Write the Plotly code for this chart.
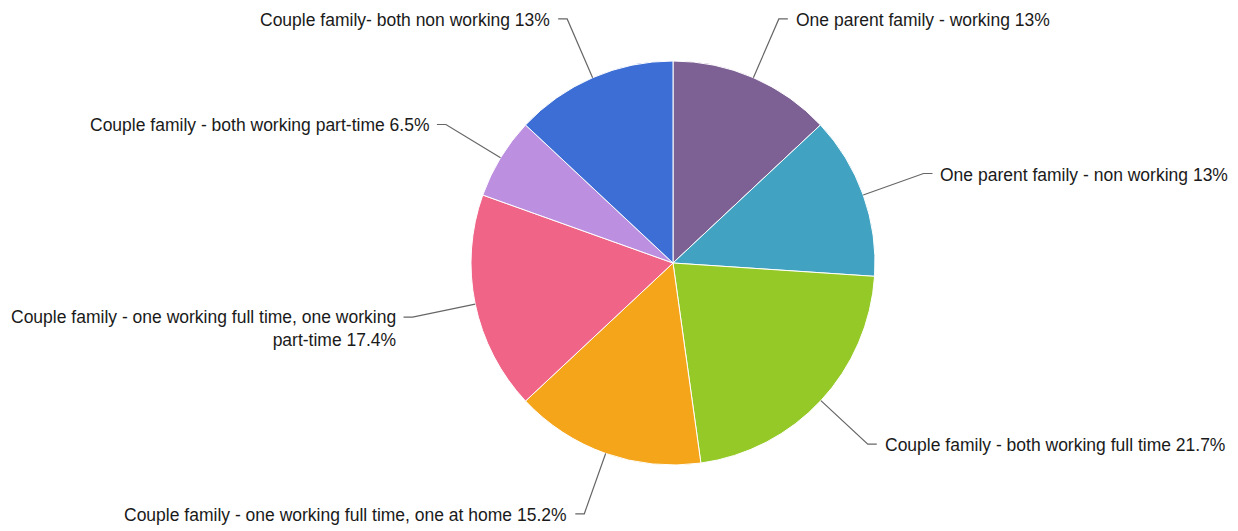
import math
import plotly.graph_objects as go

labels = [
    "One parent family - working",
    "One parent family - non working",
    "Couple family - both working full time",
    "Couple family - one working full time, one at home",
    "Couple family - one working full time, one working<br>part-time",
    "Couple family - both working part-time",
    "Couple family- both non working",
]
values = [13, 13, 21.7, 15.2, 17.4, 6.5, 13]
pct_text = ["13%", "13%", "21.7%", "15.2%", "17.4%", "6.5%", "13%"]
colors = ["#7D6194", "#41A2C2", "#95C927", "#F4A51A", "#EF6487", "#BC8FE0", "#3D6ED5"]

W, H = 1238, 531
OFF = 8  # page body margin
CX, CY, R = 673 - OFF, 263 - OFF, 202
ELBOW = 266
HSEG = 9
GAP = 6

fig = go.Figure()
fig.add_trace(go.Pie(
    labels=labels, values=values, sort=False, direction="clockwise", rotation=0,
    marker=dict(colors=colors, line=dict(color="#ffffff", width=1)),
    textinfo="none", hoverinfo="label+percent", showlegend=False,
    domain=dict(x=[(CX - R) / W, (CX + R) / W], y=[1 - (CY + R) / H, 1 - (CY - R) / H]),
))

def px(x):
    return x / W

def py(y):
    return 1 - y / H

total = sum(values)
cum = 0.0
shapes = []
annotations = []
for lab, v, t in zip(labels, values, pct_text):
    mid = (cum + v / 2) / total * 2 * math.pi
    cum += v
    sx, sy = CX + R * math.sin(mid), CY - R * math.cos(mid)
    ex, ey = CX + ELBOW * math.sin(mid), CY - ELBOW * math.cos(mid)
    right = math.sin(mid) >= 0
    hx = ex + HSEG if right else ex - HSEG
    tx = hx + GAP if right else hx - GAP
    path = f"M {px(sx)},{py(sy)} L {px(ex)},{py(ey)} L {px(hx)},{py(ey)}"
    shapes.append(dict(type="path", xref="paper", yref="paper", path=path,
                       line=dict(color="#666666", width=1.2)))
    multi = "<br>" in lab
    annotations.append(dict(
        x=px(tx), y=py(ey - 12 if multi else ey + 1), xref="paper", yref="paper",
        text=f"{lab} {t}", showarrow=False,
        xanchor="left" if right else "right",
        yanchor="top" if multi else "middle",
        align="left" if right else "right",
        font=dict(family="Liberation Sans, Arial, sans-serif", size=17.5, color="#1a1a1a"),
    ))

fig.update_layout(
    width=W, height=H, margin=dict(l=0, r=0, t=0, b=0),
    paper_bgcolor="#ffffff", plot_bgcolor="#ffffff",
    shapes=shapes, annotations=annotations,
)
fig.write_html("out.html")
